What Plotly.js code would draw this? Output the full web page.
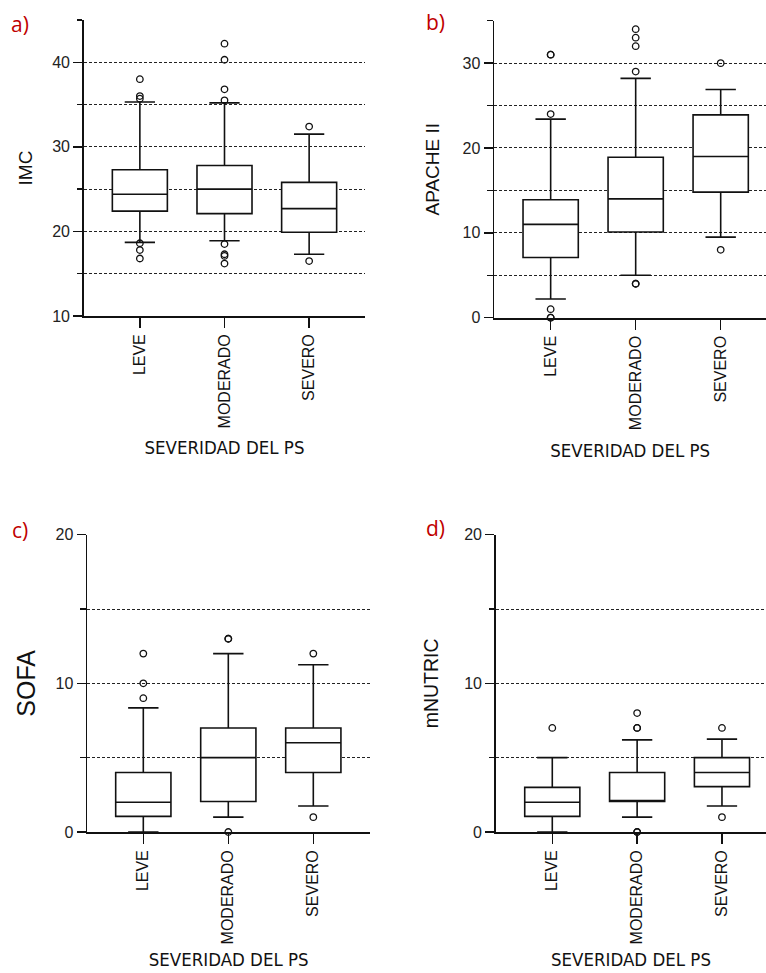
<!DOCTYPE html>
<html>
<head>
<meta charset="utf-8">
<script src="https://cdn.plot.ly/plotly-3.0.1.min.js"></script>
<style>html,body{margin:0;padding:0;background:#fff;}#chart{width:766px;height:973px;}</style>
</head>
<body>
<div id="chart"></div>
<script>
// ---------- DATA ----------
const categories = ['LEVE', 'MODERADO', 'SEVERO'];

// a) IMC
const imcQ1 = [22.4, 22.1, 19.9];
const imcMedian = [24.4, 25.0, 22.7];
const imcQ3 = [27.3, 27.8, 25.8];
const imcLow = [18.7, 18.9, 17.3];
const imcHigh = [35.3, 35.2, 31.5];
const imcOutX = ['LEVE','LEVE','LEVE','LEVE','LEVE','LEVE','MODERADO','MODERADO','MODERADO','MODERADO','MODERADO','MODERADO','MODERADO','MODERADO','SEVERO','SEVERO'];
const imcOutY = [38.0, 36.0, 35.7, 18.6, 17.8, 16.8, 42.2, 40.3, 36.8, 35.5, 18.5, 17.3, 17.1, 16.2, 32.4, 16.5];

// b) APACHE II
const apacheQ1 = [7.1, 10.1, 14.8];
const apacheMedian = [11.0, 14.0, 19.0];
const apacheQ3 = [13.9, 18.9, 23.9];
const apacheLow = [2.2, 5.0, 9.5];
const apacheHigh = [23.4, 28.2, 26.9];
const apacheOutX = ['LEVE','LEVE','LEVE','LEVE','LEVE','LEVE','MODERADO','MODERADO','MODERADO','MODERADO','MODERADO','MODERADO','SEVERO','SEVERO'];
const apacheOutY = [31, 31, 24, 1, 0, 0, 34, 33, 32, 29, 4, 4, 30, 8];

// c) SOFA
const sofaQ1 = [1.05, 2.05, 4.0];
const sofaMedian = [2.0, 5.0, 6.0];
const sofaQ3 = [4.0, 7.0, 7.0];
const sofaLow = [0, 1.0, 1.75];
const sofaHigh = [8.35, 12.0, 11.25];
const sofaOutX = ['LEVE','LEVE','LEVE','MODERADO','MODERADO','MODERADO','SEVERO','SEVERO'];
const sofaOutY = [12, 10, 9, 13, 13, 0, 12, 1];

// d) mNUTRIC
const nutricQ1 = [1.05, 2.05, 3.05];
const nutricMedian = [2.0, 2.05, 4.0];
const nutricQ3 = [3.0, 4.0, 5.0];
const nutricLow = [0, 1.0, 1.75];
const nutricHigh = [5.0, 6.2, 6.25];
const nutricOutX = ['LEVE','MODERADO','MODERADO','MODERADO','MODERADO','MODERADO','SEVERO','SEVERO'];
const nutricOutY = [7, 8, 7, 7, 0, 0, 7, 1];

const panelLabels = ['a)', 'b)', 'c)', 'd)'];
const yTitles = ['IMC', 'APACHE II', 'SOFA', 'mNUTRIC'];
const xTitle = 'SEVERIDAD DEL PS';

// ---------- BUILD ----------
const W = 766, H = 973;
const px = v => v / W;
const py = v => 1 - v / H;

function boxTrace(xa, ya, q1, med, q3, lo, hi) {
  return {
    type: 'box', xaxis: xa, yaxis: ya, x: categories,
    q1: q1, median: med, q3: q3, lowerfence: lo, upperfence: hi,
    boxpoints: false, width: 0.65, whiskerwidth: 0.55,
    fillcolor: '#ffffff', line: {color: '#111111', width: 1.6},
    hoverinfo: 'skip', showlegend: false
  };
}
function outTrace(xa, ya, xs, ys) {
  return {
    type: 'scatter', mode: 'markers', xaxis: xa, yaxis: ya, x: xs, y: ys,
    marker: {symbol: 'circle-open', size: 6.5, color: '#111111', line: {width: 1.3, color: '#111111'}},
    cliponaxis: false, hoverinfo: 'skip', showlegend: false
  };
}

const traces = [
  boxTrace('x', 'y', imcQ1, imcMedian, imcQ3, imcLow, imcHigh),
  outTrace('x', 'y', imcOutX, imcOutY),
  boxTrace('x2', 'y2', apacheQ1, apacheMedian, apacheQ3, apacheLow, apacheHigh),
  outTrace('x2', 'y2', apacheOutX, apacheOutY),
  boxTrace('x3', 'y3', sofaQ1, sofaMedian, sofaQ3, sofaLow, sofaHigh),
  outTrace('x3', 'y3', sofaOutX, sofaOutY),
  boxTrace('x4', 'y4', nutricQ1, nutricMedian, nutricQ3, nutricLow, nutricHigh),
  outTrace('x4', 'y4', nutricOutX, nutricOutY)
];

const sans = 'Arial, "Liberation Sans", sans-serif';
const narrow = '"DejaVu Sans Condensed", Arial, sans-serif';

function xAxis(dom, rng, anchor, standoff) {
  return {
    domain: dom, range: rng, type: 'category', anchor: anchor,
    showline: true, linecolor: '#111', linewidth: 1.8, mirror: false,
    ticks: 'outside', ticklen: 10, tickwidth: 1.5, tickcolor: '#111',
    tickangle: -90, tickfont: {family: sans, size: 16, color: '#111'},
    showgrid: false, zeroline: false, fixedrange: true,
    title: {text: xTitle, font: {family: narrow, size: 18.5, color: '#111'}, standoff: standoff}
  };
}
function yAxis(dom, rng, anchor, title, tsize, standoff) {
  return {
    domain: dom, range: rng, anchor: anchor,
    tickmode: 'linear', tick0: 0, dtick: 10,
    showline: true, linecolor: '#111', linewidth: 1.8,
    ticks: 'outside', ticklen: 9, tickwidth: 1.5, tickcolor: '#111',
    tickfont: {family: sans, size: 16, color: '#222'},
    showgrid: true, gridcolor: '#222', gridwidth: 1, griddash: '3px,2px',
    minor: {tick0: 0, dtick: 5, ticks: 'outside', ticklen: 5.5, tickwidth: 1.3, tickcolor: '#111',
            showgrid: true, gridcolor: '#222', gridwidth: 1, griddash: '3px,2px'},
    zeroline: false, fixedrange: true,
    title: {text: title, font: {family: sans, size: tsize, color: '#111'}, standoff: standoff}
  };
}

const layout = {
  width: W, height: H,
  margin: {l: 0, r: 0, t: 0, b: 0},
  paper_bgcolor: '#ffffff', plot_bgcolor: '#ffffff',
  showlegend: false,
  xaxis:  xAxis([px(84), px(365)], [-0.66, 2.66], 'y', 14),
  yaxis:  yAxis([py(316), py(20)], [10, 45], 'x', yTitles[0], 19, 14),
  xaxis2: xAxis([px(494.3), 1], [-0.663, 2.533], 'y2', 15),
  yaxis2: yAxis([py(317.7), py(20.7)], [0, 35], 'x2', yTitles[1], 19, 18),
  xaxis3: xAxis([px(87.3), px(370)], [-0.659, 2.667], 'y3', 10),
  yaxis3: yAxis([py(832), py(534.7)], [0, 20], 'x3', yTitles[2], 25, 13),
  xaxis4: xAxis([px(496), 1], [-0.6635, 2.519], 'y4', 10),
  yaxis4: yAxis([py(832), py(534.7)], [0, 20], 'x4', yTitles[3], 19.5, 20),
  annotations: [
    [20, 24], [436, 22], [20, 530], [436, 528]
  ].map((p, i) => ({
    text: panelLabels[i], xref: 'paper', yref: 'paper', x: px(p[0]), y: py(p[1]),
    xanchor: 'center', yanchor: 'middle', showarrow: false,
    font: {family: '"Open Sans", "Liberation Sans", sans-serif', size: 21, color: '#c00000'}
  }))
};

Plotly.newPlot('chart', traces, layout, {staticPlot: true, displayModeBar: false});
</script>
</body>
</html>
